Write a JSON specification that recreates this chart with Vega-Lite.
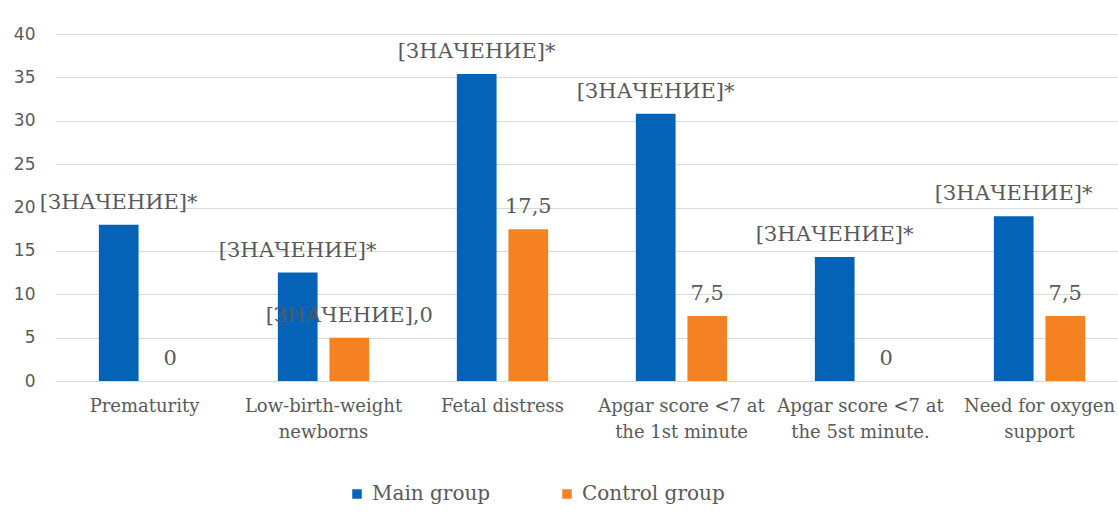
{
  "$schema": "https://vega.github.io/schema/vega-lite/v6.json",
  "autosize": {"type": "none"},
  "padding": {"left": 55, "top": 34, "right": 0, "bottom": 145},
  "width": 1074,
  "height": 347,
  "background": "white",
  "data": {
    "values": [
      {"category": "Prematurity", "group": "Main group", "value": 18.0, "label": "[ЗНАЧЕНИЕ]*"},
      {"category": "Prematurity", "group": "Control group", "value": 0, "label": "0"},
      {"category": "Low-birth-weight newborns", "group": "Main group", "value": 12.5, "label": "[ЗНАЧЕНИЕ]*"},
      {"category": "Low-birth-weight newborns", "group": "Control group", "value": 5.0, "label": "[ЗНАЧЕНИЕ],0"},
      {"category": "Fetal distress", "group": "Main group", "value": 35.4, "label": "[ЗНАЧЕНИЕ]*"},
      {"category": "Fetal distress", "group": "Control group", "value": 17.5, "label": "17,5"},
      {"category": "Apgar score <7 at the 1st minute", "group": "Main group", "value": 30.8, "label": "[ЗНАЧЕНИЕ]*"},
      {"category": "Apgar score <7 at the 1st minute", "group": "Control group", "value": 7.5, "label": "7,5"},
      {"category": "Apgar score <7 at the 5st minute.", "group": "Main group", "value": 14.3, "label": "[ЗНАЧЕНИЕ]*"},
      {"category": "Apgar score <7 at the 5st minute.", "group": "Control group", "value": 0, "label": "0"},
      {"category": "Need for oxygen support", "group": "Main group", "value": 19.0, "label": "[ЗНАЧЕНИЕ]*"},
      {"category": "Need for oxygen support", "group": "Control group", "value": 7.5, "label": "7,5"}
    ]
  },
  "encoding": {
    "x": {
      "field": "category",
      "type": "nominal",
      "sort": ["Prematurity", "Low-birth-weight newborns", "Fetal distress", "Apgar score <7 at the 1st minute", "Apgar score <7 at the 5st minute.", "Need for oxygen support"],
      "scale": {"paddingInner": 0.49, "paddingOuter": 0.245},
      "axis": {
        "title": null,
        "labelAngle": 0,
        "domain": false,
        "ticks": false,
        "labelFont": "DejaVu Serif",
        "labelFontSize": 18,
        "labelColor": "#595959",
        "labelLineHeight": 26,
        "labelPadding": 16,
        "labelLimit": 0,
        "labelOverlap": false,
        "labelExpr": "datum.value == 'Low-birth-weight newborns' ? ['Low-birth-weight', 'newborns'] : datum.value == 'Apgar score <7 at the 1st minute' ? ['Apgar score <7 at', 'the 1st minute'] : datum.value == 'Apgar score <7 at the 5st minute.' ? ['Apgar score <7 at', 'the 5st minute.'] : datum.value == 'Need for oxygen support' ? ['Need for oxygen', 'support'] : datum.value"
      }
    },
    "xOffset": {
      "field": "group",
      "type": "nominal",
      "sort": ["Main group", "Control group"],
      "scale": {"paddingInner": 0.23, "paddingOuter": 0}
    },
    "y": {
      "field": "value",
      "type": "quantitative",
      "scale": {"domain": [0, 40], "nice": false},
      "axis": {
        "title": null,
        "values": [0, 5, 10, 15, 20, 25, 30, 35, 40],
        "domain": false,
        "ticks": false,
        "labelFont": "DejaVu Sans",
        "labelFontSize": 17,
        "labelColor": "#595959",
        "labelPadding": 20,
        "gridColor": "#d9d9d9",
        "gridWidth": 1
      }
    }
  },
  "layer": [
    {
      "mark": {"type": "bar"},
      "encoding": {
        "color": {
          "field": "group",
          "type": "nominal",
          "scale": {"domain": ["Main group", "Control group"], "range": ["#0563B7", "#F58220"]},
          "legend": {
            "title": null,
            "orient": "none",
            "direction": "horizontal",
            "legendX": 292,
            "legendY": 450,
            "symbolType": "square",
            "symbolSize": 90,
            "symbolStrokeWidth": 0,
            "labelFont": "DejaVu Serif",
            "labelFontSize": 20,
            "labelColor": "#595959",
            "labelOffset": 5,
            "columnPadding": 66
          }
        }
      }
    },
    {
      "mark": {"type": "text", "baseline": "alphabetic", "dy": -16, "font": "DejaVu Serif", "fontSize": 21, "color": "#595959"},
      "encoding": {
        "text": {"field": "label", "type": "nominal"}
      }
    }
  ],
  "config": {
    "view": {"stroke": null}
  }
}
